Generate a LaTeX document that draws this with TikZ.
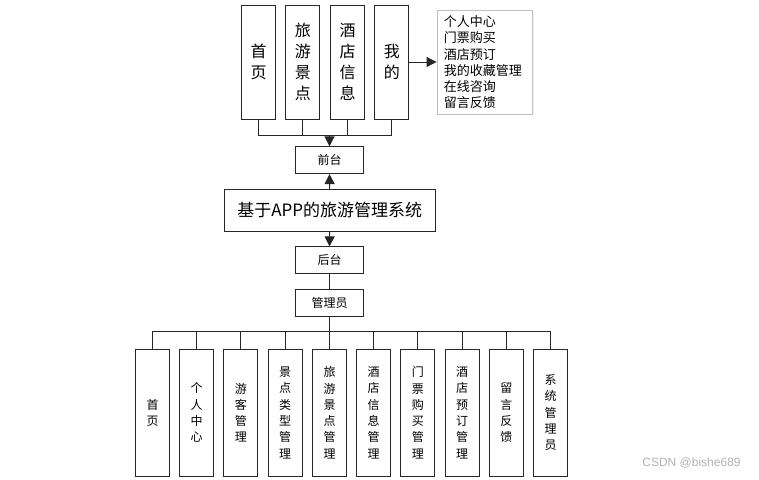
\documentclass[tikz,border=0pt]{standalone}
\usepackage{fontspec}
\newfontfamily\cjk{Noto Sans CJK SC}
\setsansfont{Liberation Sans}
\usetikzlibrary{arrows.meta,shadows}
\tikzset{
  line/.style={draw=black!85, line width=1pt},
  arr/.style={line, -{Triangle[width=10pt,length=10pt]}},
  tbox/.style={draw=black!85, line width=1pt, minimum width=34pt, minimum height=114pt, inner sep=0pt, align=center, font=\cjk\fontsize{16}{21}\selectfont},
  mbox/.style={draw=black!85, line width=1pt, minimum width=67.6pt, minimum height=26.8pt, inner sep=0pt, font=\cjk\fontsize{12}{14}\selectfont},
  bbox/.style={draw=black!85, line width=1pt, minimum width=34pt, minimum height=126.7pt, inner sep=0pt, align=center, font=\cjk\fontsize{12}{16.3}\selectfont},
}
\begin{document}
\begin{tikzpicture}[x=1pt,y=-1pt]
\useasboundingbox[fill=white] (0,0) rectangle (759,479);
% top row
\node[tbox] (t1) at (258.7,62) {首\\页};
\node[tbox] (t2) at (302.8,62) {旅\\游\\景\\点};
\node[tbox] (t3) at (347.5,62) {酒\\店\\信\\息};
\node[tbox] (t4) at (391.8,62) {我\\的};
\node[draw=black!25, line width=0.8pt, minimum width=95.7pt, minimum height=103.3pt, text width=81.7pt, inner xsep=7pt, inner ysep=0pt, align=left, font=\cjk\fontsize{13}{16.3}\selectfont, drop shadow={opacity=0.12, shadow xshift=1.5pt, shadow yshift=-1.5pt}, fill=white] (mine) at (484.8,62.3) {个人中心\\门票购买\\酒店预订\\我的收藏管理\\在线咨询\\留言反馈};
\draw[arr] (t4.east) -- (mine.west |- t4.east);
\coordinate (tj) at (329.5,135.7);
\foreach \n in {t1,t2,t3,t4} \draw[line] (\n.south) |- (tj);
% middle
\node[mbox] (qt) at (329.5,160.2) {前台};
\node[draw=black!85, line width=1pt, minimum width=211.3pt, minimum height=42.4pt, inner sep=0pt, font=\cjk\fontsize{17}{20}\selectfont] (sys) at (329.7,210.5) {基于APP的旅游管理系统};
\node[mbox] (ht) at (329.5,260.3) {后台};
\node[mbox] (gly) at (329.5,303) {管理员};
\draw[arr] (tj) -- (qt.north);
\draw[arr] (sys.north) -- (qt.south);
\draw[arr] (sys.south) -- (ht.north);
\draw[line] (ht.south) -- (gly.north);
\coordinate (bj) at (329.5,331.7);
\draw[line] (gly.south) -- (bj);
% bottom row
\node[bbox] (b1) at (152.5,412.7) {首\\页};
\node[bbox] (b2) at (196.7,412.7) {个\\人\\中\\心};
\node[bbox] (b3) at (240.9,412.7) {游\\客\\管\\理};
\node[bbox] (b4) at (285.2,412.7) {景\\点\\类\\型\\管\\理};
\node[bbox] (b5) at (329.5,412.7) {旅\\游\\景\\点\\管\\理};
\node[bbox] (b6) at (373.6,412.7) {酒\\店\\信\\息\\管\\理};
\node[bbox] (b7) at (417.8,412.7) {门\\票\\购\\买\\管\\理};
\node[bbox] (b8) at (462.0,412.7) {酒\\店\\预\\订\\管\\理};
\node[bbox] (b9) at (506.3,412.7) {留\\言\\反\\馈};
\node[bbox] (b10) at (550.5,412.7) {系\\统\\管\\理\\员};
\foreach \n in {b1,b2,b3,b4,b5,b6,b7,b8,b9,b10} \draw[line] (\n.north) |- (bj);
% watermark
\node[text=black!30, font=\sffamily\fontsize{12}{14}\selectfont, inner sep=0pt] (wm) at (691.5,463) {CSDN @bishe689};
\end{tikzpicture}
\end{document}
